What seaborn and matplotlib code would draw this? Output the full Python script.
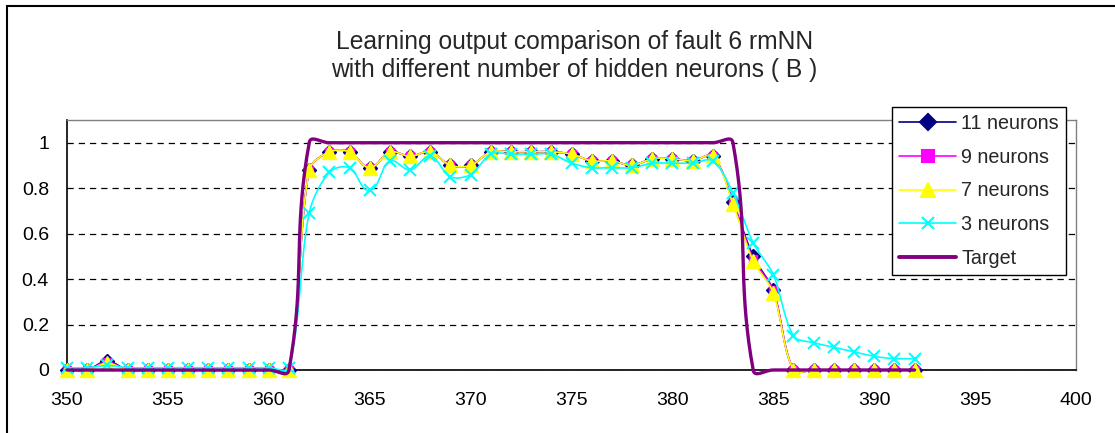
import numpy as np
import matplotlib
matplotlib.use("Agg")
import matplotlib.pyplot as plt
import seaborn as sns
from matplotlib.lines import Line2D
from matplotlib.patches import Rectangle

steps = [350, 351, 352, 353, 354, 355, 356, 357, 358, 359, 360, 361,
         362, 363, 364, 365, 366, 367, 368, 369, 370, 371, 372, 373, 374, 375, 376, 377, 378, 379, 380, 381, 382,
         383, 384, 385, 386, 387, 388, 389, 390, 391, 392]

n11 = [0, 0, 0.04, 0, 0, 0, 0, 0, 0, 0, 0, 0,
       0.88, 0.96, 0.96, 0.89, 0.96, 0.94, 0.96, 0.90, 0.90, 0.96, 0.96, 0.96, 0.96, 0.95, 0.92, 0.92, 0.90, 0.93, 0.93, 0.92, 0.94,
       0.74, 0.50, 0.35, 0, 0, 0, 0, 0, 0, 0]
n9 = [0, 0, 0.035, 0, 0, 0, 0, 0, 0, 0, 0, 0,
      0.88, 0.96, 0.96, 0.89, 0.96, 0.94, 0.96, 0.90, 0.90, 0.96, 0.96, 0.96, 0.96, 0.95, 0.92, 0.92, 0.90, 0.93, 0.93, 0.92, 0.94,
      0.74, 0.49, 0.35, 0, 0, 0, 0, 0, 0, 0]
n7 = [0, 0, 0.03, 0, 0, 0, 0, 0, 0, 0, 0, 0,
      0.88, 0.96, 0.96, 0.89, 0.96, 0.94, 0.96, 0.90, 0.90, 0.96, 0.96, 0.96, 0.96, 0.95, 0.92, 0.92, 0.90, 0.93, 0.93, 0.92, 0.94,
      0.73, 0.48, 0.34, 0, 0, 0, 0, 0, 0, 0]
n3 = [0.01, 0.01, 0.02, 0.01, 0.01, 0.01, 0.01, 0.01, 0.01, 0.01, 0.01, 0.01,
      0.69, 0.87, 0.89, 0.79, 0.92, 0.88, 0.94, 0.85, 0.86, 0.95, 0.95, 0.95, 0.95, 0.91, 0.89, 0.89, 0.89, 0.91, 0.91, 0.91, 0.92,
      0.78, 0.56, 0.42, 0.15, 0.12, 0.10, 0.08, 0.06, 0.05, 0.05]
target = [0, 0, 0, 0, 0, 0, 0, 0, 0, 0, 0, 0,
          1, 1, 1, 1, 1, 1, 1, 1, 1, 1, 1, 1, 1, 1, 1, 1, 1, 1, 1, 1, 1,
          1, 0, 0, 0, 0, 0, 0, 0, 0, 0]

labels = ["11 neurons", "9 neurons", "7 neurons", "3 neurons", "Target"]
colors = ["#000080", "#FF00FF", "#FFFF00", "#00FFFF", "#800080"]
markers = ["D", "s", "^", "x", None]

sns.set_theme(style="white")
plt.rcParams["font.family"] = ["Liberation Sans", "DejaVu Sans"]

fig = plt.figure(figsize=(11.15, 4.33), dpi=100)
ax = fig.add_axes([67 / 1115, 1 - 370 / 433, 1009 / 1115, 250 / 433])
ax.set_xlim(350, 400)
ax.set_ylim(0, 1.1)


def smooth(ax, x, y, tension=0.32, n=20):
    # excel style smoothed line, built in screen space
    pts = ax.transData.transform(np.column_stack([x, y]).astype(float))
    out = [pts[0]]
    last = len(pts) - 1
    for i in range(last):
        p0, p1 = pts[max(i - 1, 0)], pts[i]
        p2, p3 = pts[i + 1], pts[min(i + 2, last)]
        d = np.hypot(*(p2 - p1))
        t1, t2 = p2 - p0, p3 - p1
        t1 = t1 / np.hypot(*t1)
        t2 = t2 / np.hypot(*t2)
        c1 = p1 + tension * d * t1
        c2 = p2 - tension * d * t2
        s = np.linspace(0, 1, n)[1:, None]
        seg = (1 - s) ** 3 * p1 + 3 * (1 - s) ** 2 * s * c1 + 3 * (1 - s) * s ** 2 * c2 + s ** 3 * p2
        out.extend(seg)
    return ax.transData.inverted().transform(np.array(out))


series = [n11, n9, n7, n3, target]
sizes = [7.5, 5.5, 10.5, 9, None]
for k, vals in enumerate(series):
    curve = smooth(ax, steps, vals, tension=0.42 if k == 4 else 0.3)
    lw = 2.4 if k == 4 else 1.2
    sns.lineplot(x=curve[:, 0], y=curve[:, 1], color=colors[k], lw=lw, sort=False,
                 estimator=None, ax=ax, clip_on=False, zorder=3 + k, legend=False)
    if markers[k] is not None:
        ax.plot(steps, vals, ls="none", marker=markers[k], ms=sizes[k], color=colors[k],
                mec=colors[k], mew=1.5 if markers[k] == "x" else 1, clip_on=False, zorder=3 + k)

ax.set_yticks([0, 0.2, 0.4, 0.6, 0.8, 1.0])
ax.set_yticklabels(["0", "0.2", "0.4", "0.6", "0.8", "1"])
ax.set_xticks(range(350, 401, 5))
ax.tick_params(axis="both", labelsize=14, colors="black", direction="out", length=5, width=1)
ax.tick_params(axis="x", pad=11)
ax.tick_params(axis="y", pad=8)
ax.yaxis.grid(True, color="black", linestyle=(0, (5, 4)), lw=0.9)
ax.set_axisbelow(True)
for side in ["left", "bottom"]:
    ax.spines[side].set_color("black")
    ax.spines[side].set_linewidth(1.2)
for side in ["top", "right"]:
    ax.spines[side].set_color("#808080")
    ax.spines[side].set_linewidth(1.0)

leg_sizes = [8.5, 8, 10.5, 9, 0]
handles = []
for k in range(5):
    handles.append(Line2D([], [], color=colors[k], lw=2.8 if k == 4 else 1.2, marker=markers[k],
                          ms=leg_sizes[k], mec=colors[k], mew=1.5))
leg = ax.legend(handles, labels, loc="upper left", bbox_to_anchor=(892 / 1115, 1 - 107 / 433),
                bbox_transform=fig.transFigure, borderaxespad=0, fontsize=14.2, frameon=True,
                fancybox=False, edgecolor="black", framealpha=1, handlelength=2.9,
                handletextpad=0.25, labelspacing=0.75, borderpad=0.35)
leg.get_frame().set_linewidth(1.0)
leg.set_zorder(20)

fig.text(0.515, 1 - 42 / 433, "Learning output comparison of fault 6 rmNN", ha="center", va="center", fontsize=17.7)
fig.text(0.515, 1 - 70 / 433, "with different number of hidden neurons ( B )", ha="center", va="center", fontsize=17.7)

fig.add_artist(Rectangle((7 / 1115, -0.05), 1.2, 1.05 - 6 / 433, transform=fig.transFigure,
                         fill=False, edgecolor="black", lw=1.5, clip_on=False))

fig.savefig("out.png", dpi=100)
